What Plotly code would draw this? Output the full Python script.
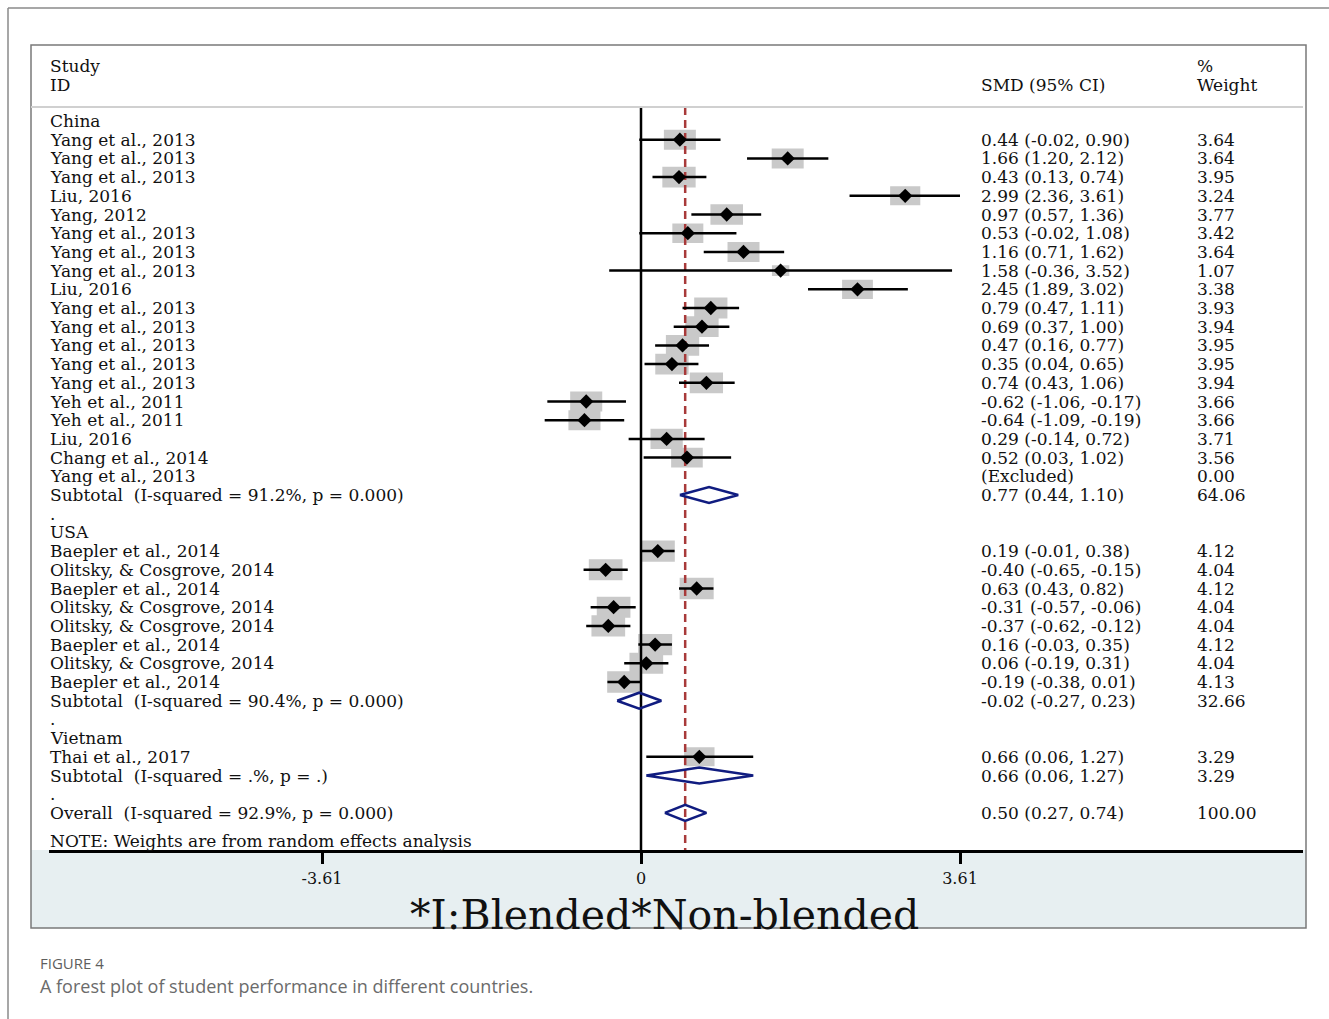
import math
import plotly.graph_objects as go

# ---------------- data ----------------
china_names = ["Yang et al., 2013", "Yang et al., 2013", "Yang et al., 2013", "Liu, 2016",
               "Yang, 2012", "Yang et al., 2013", "Yang et al., 2013", "Yang et al., 2013",
               "Liu, 2016", "Yang et al., 2013", "Yang et al., 2013", "Yang et al., 2013",
               "Yang et al., 2013", "Yang et al., 2013", "Yeh et al., 2011", "Yeh et al., 2011",
               "Liu, 2016", "Chang et al., 2014", "Yang et al., 2013"]
china_smd = [0.44, 1.66, 0.43, 2.99, 0.97, 0.53, 1.16, 1.58, 2.45, 0.79, 0.69, 0.47, 0.35, 0.74,
             -0.62, -0.64, 0.29, 0.52, None]
china_lo = [-0.02, 1.20, 0.13, 2.36, 0.57, -0.02, 0.71, -0.36, 1.89, 0.47, 0.37, 0.16, 0.04, 0.43,
            -1.06, -1.09, -0.14, 0.03, None]
china_hi = [0.90, 2.12, 0.74, 3.61, 1.36, 1.08, 1.62, 3.52, 3.02, 1.11, 1.00, 0.77, 0.65, 1.06,
            -0.17, -0.19, 0.72, 1.02, None]
china_w = [3.64, 3.64, 3.95, 3.24, 3.77, 3.42, 3.64, 1.07, 3.38, 3.93, 3.94, 3.95, 3.95, 3.94,
           3.66, 3.66, 3.71, 3.56, 0.00]
china_sub = (0.77, 0.44, 1.10, 64.06, "Subtotal  (I-squared = 91.2%, p = 0.000)")

usa_names = ["Baepler et al., 2014", "Olitsky, & Cosgrove, 2014", "Baepler et al., 2014",
             "Olitsky, & Cosgrove, 2014", "Olitsky, & Cosgrove, 2014", "Baepler et al., 2014",
             "Olitsky, & Cosgrove, 2014", "Baepler et al., 2014"]
usa_smd = [0.19, -0.40, 0.63, -0.31, -0.37, 0.16, 0.06, -0.19]
usa_lo = [-0.01, -0.65, 0.43, -0.57, -0.62, -0.03, -0.19, -0.38]
usa_hi = [0.38, -0.15, 0.82, -0.06, -0.12, 0.35, 0.31, 0.01]
usa_w = [4.12, 4.04, 4.12, 4.04, 4.04, 4.12, 4.04, 4.13]
usa_sub = (-0.02, -0.27, 0.23, 32.66, "Subtotal  (I-squared = 90.4%, p = 0.000)")

vietnam_names = ["Thai et al., 2017"]
vietnam_smd = [0.66]
vietnam_lo = [0.06]
vietnam_hi = [1.27]
vietnam_w = [3.29]
vietnam_sub = (0.66, 0.06, 1.27, 3.29, "Subtotal  (I-squared = .%, p = .)")

overall = (0.50, 0.27, 0.74, 100.00, "Overall  (I-squared = 92.9%, p = 0.000)")

groups = [
    ("China", china_names, china_smd, china_lo, china_hi, china_w, china_sub),
    ("USA", usa_names, usa_smd, usa_lo, usa_hi, usa_w, usa_sub),
    ("Vietnam", vietnam_names, vietnam_smd, vietnam_lo, vietnam_hi, vietnam_w, vietnam_sub),
]
tick_vals = [-3.61, 0, 3.61]
tick_text = ["-3.61", "0", "3.61"]

# ---------------- layout constants ----------------
W, H = 1329, 1019
X0_PX = 641.0                  # pixel of SMD = 0
PX_PER_UNIT = 319.0 / 3.61
ROW0_PX = 121.0                # pixel of first row
ROW_PX = 18.70
PLOT_L, PLOT_R, PLOT_T, PLOT_B = 49, 1303, 45, 850
SERIF = "DejaVu Serif"
FS = 17
TXT = "#111111"
COL_NAME, COL_SMD, COL_W = 48, 979, 1195


def px2x(px):
    return (px - X0_PX) / PX_PER_UNIT


def py2r(py):
    return (py - ROW0_PX) / ROW_PX


def pxp(px):
    return px / W


def pyp(py):
    return 1 - py / H


# ---------------- build rows ----------------
fig = go.Figure()
annotations = []


def add_text(row, s, xpx):
    annotations.append(dict(x=pxp(xpx), xref="paper", y=row, yref="y", text=s,
                            showarrow=False, xanchor="left", yanchor="middle",
                            font=dict(family=SERIF, size=FS, color=TXT)))


def fmt(e, l, h):
    return f"{e:.2f} ({l:.2f}, {h:.2f})"


sq_x, sq_y = [], []
ci_x, ci_y = [], []
pt_x, pt_y = [], []
dm_x, dm_y = [], []
DIA_H = 8.0 / ROW_PX

row = 0
for gname, names, smd, lo, hi, w, sub in groups:
    add_text(row, gname, COL_NAME)
    row += 1
    for n, e, l, h, wt in zip(names, smd, lo, hi, w):
        add_text(row, n, COL_NAME)
        if e is None:
            add_text(row, "(Excluded)", COL_SMD)
        else:
            add_text(row, fmt(e, l, h), COL_SMD)
            hw = 8.38 * math.sqrt(wt) / PX_PER_UNIT
            hh = 5.24 * math.sqrt(wt) / ROW_PX
            sq_x += [e - hw, e + hw, e + hw, e - hw, e - hw, None]
            sq_y += [row - hh, row - hh, row + hh, row + hh, row - hh, None]
            ci_x += [l, h, None]
            ci_y += [row, row, None]
            pt_x.append(e)
            pt_y.append(row)
        add_text(row, f"{wt:.2f}", COL_W)
        row += 1
    e, l, h, wt, lab = sub
    add_text(row, lab, COL_NAME)
    add_text(row, fmt(e, l, h), COL_SMD)
    add_text(row, f"{wt:.2f}", COL_W)
    dm_x += [l, e, h, e, l, None]
    dm_y += [row, row - DIA_H, row, row + DIA_H, row, None]
    row += 1
    add_text(row, ".", COL_NAME)
    row += 1

e, l, h, wt, lab = overall
add_text(row, lab, COL_NAME)
add_text(row, fmt(e, l, h), COL_SMD)
add_text(row, f"{wt:.2f}", COL_W)
dm_x += [l, e, h, e, l, None]
dm_y += [row, row - DIA_H, row, row + DIA_H, row, None]
add_text(row + 1.5, "NOTE: Weights are from random effects analysis", COL_NAME)

# header
for s, xpx, ypx in [("Study", COL_NAME, 66), ("ID", COL_NAME, 85), ("SMD (95% CI)", COL_SMD, 85),
                    ("%", COL_W, 66), ("Weight", COL_W, 85)]:
    annotations.append(dict(x=pxp(xpx), xref="paper", y=pyp(ypx), yref="paper", text=s,
                            showarrow=False, xanchor="left", yanchor="middle",
                            font=dict(family=SERIF, size=FS, color=TXT)))

# bottom label and caption
annotations.append(dict(x=pxp(664), xref="paper", y=pyp(915), yref="paper",
                        text="*I:Blended*Non-blended", showarrow=False,
                        xanchor="center", yanchor="middle",
                        font=dict(family=SERIF, size=41, color="#111111")))
annotations.append(dict(x=pxp(38), xref="paper", y=pyp(963), yref="paper", text="FIGURE 4",
                        showarrow=False, xanchor="left", yanchor="middle",
                        font=dict(family="Open Sans", size=15, color="#5e5e5e")))
annotations.append(dict(x=pxp(38), xref="paper", y=pyp(986), yref="paper",
                        text="A forest plot of student performance in different countries.",
                        showarrow=False, xanchor="left", yanchor="middle",
                        font=dict(family="Open Sans", size=18, color="#6b6b6b")))

# ---------------- traces ----------------
sep_r = py2r(107)
bot_r = py2r(PLOT_B)

fig.add_trace(go.Scatter(x=sq_x, y=sq_y, mode="lines", fill="toself",
                         fillcolor="#c9c9c9", line=dict(width=0), hoverinfo="skip"))
fig.add_trace(go.Scatter(x=[0, 0], y=[sep_r, bot_r], mode="lines",
                         line=dict(color="black", width=2.5), hoverinfo="skip"))
fig.add_trace(go.Scatter(x=[overall[0], overall[0]], y=[sep_r, bot_r], mode="lines",
                         line=dict(color="#a83a3a", width=2.5, dash="8px,5px"), hoverinfo="skip"))
fig.add_trace(go.Scatter(x=ci_x, y=ci_y, mode="lines",
                         line=dict(color="black", width=2.5), hoverinfo="skip"))
fig.add_trace(go.Scatter(x=pt_x, y=pt_y, mode="markers",
                         marker=dict(symbol="diamond", size=11, color="black"), hoverinfo="skip"))
fig.add_trace(go.Scatter(x=dm_x, y=dm_y, mode="lines",
                         line=dict(color="#101c80", width=2.5), hoverinfo="skip"))

# ---------------- shapes (frames) ----------------
shapes = [
    dict(type="rect", xref="paper", yref="paper", x0=pxp(31), x1=pxp(1306), y0=pyp(928), y1=pyp(850),
         fillcolor="#e7eff1", line=dict(width=0), layer="below"),
    dict(type="rect", xref="paper", yref="paper", x0=pxp(31), x1=pxp(1306), y0=pyp(928), y1=pyp(45),
         fillcolor="rgba(0,0,0,0)", line=dict(color="#7a7a7a", width=1.5), layer="above"),
    dict(type="line", xref="paper", yref="paper", x0=pxp(31), x1=pxp(1303), y0=pyp(107), y1=pyp(107),
         line=dict(color="#d0d0d0", width=2)),
    dict(type="line", xref="paper", yref="paper", x0=pxp(8), x1=1, y0=pyp(8), y1=pyp(8),
         line=dict(color="#8a8a8a", width=1.5)),
    dict(type="line", xref="paper", yref="paper", x0=pxp(8), x1=pxp(8), y0=pyp(8), y1=0,
         line=dict(color="#8a8a8a", width=1.5)),
]

fig.update_layout(
    width=W, height=H,
    margin=dict(l=0, r=0, t=0, b=0),
    paper_bgcolor="white", plot_bgcolor="rgba(0,0,0,0)",
    showlegend=False,
    annotations=annotations,
    shapes=shapes,
    xaxis=dict(domain=[pxp(PLOT_L), pxp(PLOT_R)], range=[px2x(PLOT_L), px2x(PLOT_R)],
               showgrid=False, zeroline=False, showline=True, linecolor="black", linewidth=2.5,
               ticks="outside", ticklen=11, tickwidth=2.5, tickcolor="black",
               tickvals=tick_vals, ticktext=tick_text, ticklabelstandoff=1,
               tickfont=dict(family=SERIF, size=16, color=TXT), fixedrange=True),
    yaxis=dict(domain=[pyp(PLOT_B), pyp(PLOT_T)], range=[py2r(PLOT_B), py2r(PLOT_T)],
               visible=False, showgrid=False, zeroline=False, fixedrange=True),
)

fig.write_html("out.html")
